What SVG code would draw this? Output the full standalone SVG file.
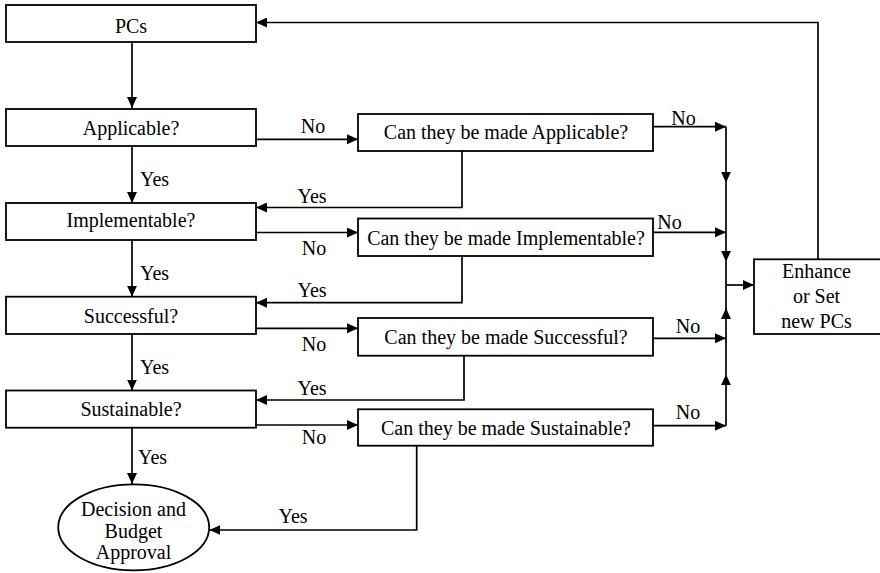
<svg xmlns="http://www.w3.org/2000/svg" width="880" height="573" viewBox="0 0 880 573">
<style>
  .box { fill: #fff; stroke: #000; stroke-width: 1.8; }
  .ln { fill: none; stroke: #000; stroke-width: 1.7; }
  .arr { marker-end: url(#ah); }
  text { font-family: "Liberation Serif", "Times New Roman", serif; font-size: 20px; fill: #000; }
  .c { text-anchor: middle; }
</style>
<defs>
  <marker id="ah" markerUnits="userSpaceOnUse" markerWidth="11" markerHeight="10" refX="11" refY="5" orient="auto">
    <path d="M0,0 L11,5 L0,10 z" fill="#000"/>
  </marker>
</defs>
<rect width="880" height="573" fill="#fff"/>

<g id="connectors">
  <path class="ln arr" d="M132,42 V108"/>
  <path class="ln arr" d="M132,146 V203"/>
  <path class="ln arr" d="M132,240 V296.7"/>
  <path class="ln arr" d="M132,334 V390.5"/>
  <path class="ln arr" d="M132,427.7 V484"/>

  <path class="ln arr" d="M256,139.3 H358"/>
  <path class="ln arr" d="M256,232.5 H358"/>
  <path class="ln arr" d="M256,328.3 H358"/>
  <path class="ln arr" d="M256,425 H358"/>

  <path class="ln arr" d="M462,151 V207.5 H256"/>
  <path class="ln arr" d="M462,256 V302.7 H256"/>
  <path class="ln arr" d="M464,355.7 V400 H256"/>
  <path class="ln arr" d="M416.7,445.7 V530 H209.3"/>

  <path class="ln arr" d="M653,126.7 H726"/>
  <path class="ln arr" d="M653,232.3 H726"/>
  <path class="ln arr" d="M653,338.3 H726"/>
  <path class="ln arr" d="M653,425.7 H726"/>

  <path class="ln arr" d="M726,126.7 V182.7"/>
  <path class="ln arr" d="M726,182.7 V261.7"/>
  <path class="ln" d="M726,261.7 V285"/>
  <path class="ln arr" d="M726,425.7 V374.3"/>
  <path class="ln arr" d="M726,374.3 V308"/>
  <path class="ln" d="M726,308 V285"/>
  <path class="ln arr" d="M726,285 H754"/>

  <path class="ln arr" d="M818,259.3 V22.5 H256"/>

  <text x="140" y="186">Yes</text>
  <text x="140" y="280">Yes</text>
  <text x="140" y="374">Yes</text>
  <text x="138" y="464">Yes</text>

  <text class="c" x="313" y="133">No</text>
  <text class="c" x="314" y="255">No</text>
  <text class="c" x="314" y="350.5">No</text>
  <text class="c" x="314" y="444">No</text>

  <text class="c" x="312" y="203">Yes</text>
  <text class="c" x="312" y="297">Yes</text>
  <text class="c" x="312" y="395">Yes</text>
  <text class="c" x="293" y="523">Yes</text>

  <text class="c" x="683.5" y="125">No</text>
  <text class="c" x="669.5" y="229">No</text>
  <text class="c" x="688" y="333">No</text>
  <text class="c" x="688" y="419">No</text>
</g>

<g id="pcs">
  <rect class="box" x="6" y="5" width="250" height="37"/>
  <text class="c" x="131" y="33">PCs</text>
</g>
<g id="applicable">
  <rect class="box" x="6" y="109" width="250" height="37"/>
  <text class="c" x="131" y="135">Applicable?</text>
</g>
<g id="implementable">
  <rect class="box" x="6" y="203" width="250" height="37"/>
  <text class="c" x="131" y="227">Implementable?</text>
</g>
<g id="successful">
  <rect class="box" x="6" y="296.7" width="250" height="37.3"/>
  <text class="c" x="131" y="322.5">Successful?</text>
</g>
<g id="sustainable">
  <rect class="box" x="6" y="390.5" width="250" height="37.2"/>
  <text class="c" x="131" y="415.5">Sustainable?</text>
</g>

<g id="can-applicable">
  <rect class="box" x="358" y="114" width="295" height="37"/>
  <text class="c" x="506" y="138.5">Can they be made Applicable?</text>
</g>
<g id="can-implementable">
  <rect class="box" x="358" y="218.5" width="295" height="37.5"/>
  <text class="c" x="506" y="245">Can they be made Implementable?</text>
</g>
<g id="can-successful">
  <rect class="box" x="358" y="318" width="295" height="37.7"/>
  <text class="c" x="506" y="344">Can they be made Successful?</text>
</g>
<g id="can-sustainable">
  <rect class="box" x="358" y="409.3" width="295" height="36.4"/>
  <text class="c" x="506" y="435">Can they be made Sustainable?</text>
</g>

<g id="enhance">
  <rect class="box" x="754" y="259.3" width="130" height="74.7"/>
  <text class="c" x="816.5" y="278.3">Enhance</text>
  <text class="c" x="816.5" y="303.3">or Set</text>
  <text class="c" x="816.5" y="327.5">new PCs</text>
</g>

<g id="decision">
  <ellipse class="box" cx="133.7" cy="527.3" rx="75.5" ry="43"/>
  <text class="c" x="133.5" y="515.7">Decision and</text>
  <text class="c" x="133.5" y="538">Budget</text>
  <text class="c" x="133.5" y="558.5">Approval</text>
</g>
</svg>
